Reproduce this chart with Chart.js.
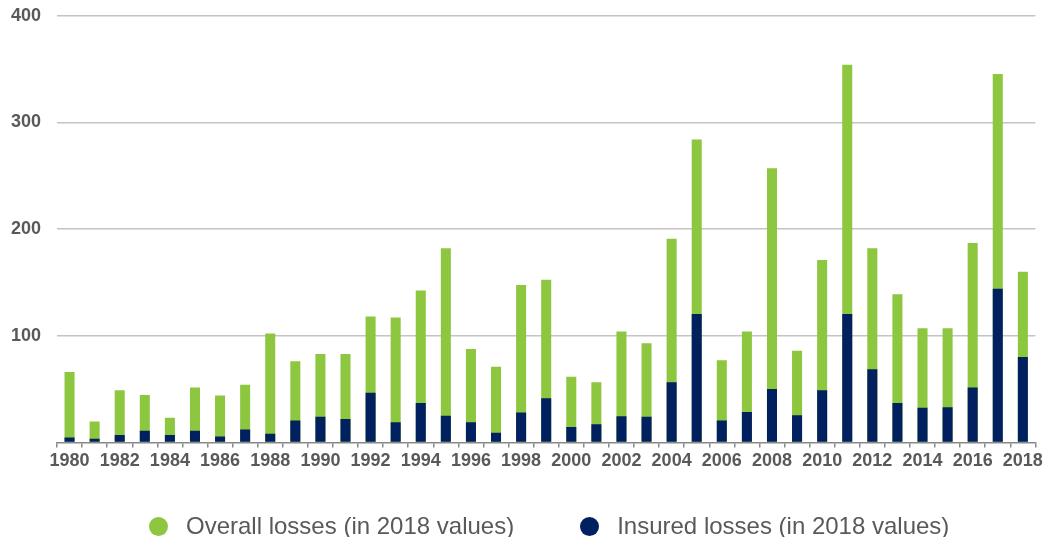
<!DOCTYPE html>
<html>
<head>
<meta charset="utf-8">
<script src="https://cdn.jsdelivr.net/npm/chart.js@4"></script>
<style>
  body { margin: 0; background: #fff; }
  #wrap { position: relative; width: 1046px; height: 537px; }
  #legend {
    position: absolute; left: 149px; top: 514px; height: 24px;
    display: flex; align-items: center;
    font-family: Arial, "Liberation Sans", sans-serif; font-size: 24px; color: #595959;
  }
  #legend .item { display: flex; align-items: center; margin-right: 66px; white-space: nowrap; }
  #legend .dot { width: 19px; height: 19px; border-radius: 50%; margin-right: 18px; }
</style>
</head>
<body>
<div id="wrap">
  <canvas id="myChart"></canvas>
  <div id="legend"></div>
</div>
<script>
const years = [1980, 1981, 1982, 1983, 1984, 1985, 1986, 1987, 1988, 1989,
  1990, 1991, 1992, 1993, 1994, 1995, 1996, 1997, 1998, 1999,
  2000, 2001, 2002, 2003, 2004, 2005, 2006, 2007, 2008, 2009,
  2010, 2011, 2012, 2013, 2014, 2015, 2016, 2017, 2018];

// overall losses, in 2018 values
const overallLosses = [66, 19.5, 49, 44.5, 23, 51.5, 44, 54, 102, 76,
  83, 83, 118, 117, 142.5, 182, 87.5, 71, 147.5, 152.5,
  61.5, 56.5, 104, 93, 191, 284, 77, 104, 257, 86,
  171, 354, 182, 139, 107, 107, 187, 345.5, 160];

// insured losses, in 2018 values
const insuredLosses = [4.5, 3.5, 7, 11, 7, 11, 5.5, 12, 8, 20.5,
  24, 22, 46.5, 19, 37, 25, 19, 9, 28, 41.5,
  14.5, 17, 24.5, 24, 56.5, 120.5, 20.5, 28.5, 50, 25.5,
  49, 120.5, 68.5, 37, 32.5, 33, 51.5, 144, 80];

const yTickValues = [0, 100, 200, 300, 400];

const font = 'Arial, "Liberation Sans", sans-serif';

const chart = new Chart(
  document.getElementById('myChart'),
  {
    type: 'bar',
    data: {
      labels: years,
      datasets: [
        {
          label: 'Insured losses (in 2018 values)',
          data: insuredLosses,
          backgroundColor: '#002060'
        },
        {
          label: 'Overall losses (in 2018 values)',
          data: overallLosses,
          backgroundColor: '#8dc63f'
        }
      ]
    },
    options: {
      responsive: true,
      maintainAspectRatio: false,
      animation: false,
      datasets: {
        bar: {
          grouped: false,
          barPercentage: 0.4,
          categoryPercentage: 1
        }
      },
      layout: {
        padding: { left: 0, right: 10, top: 7, bottom: 62 }
      },
      plugins: {
        legend: { display: false },
        tooltip: { enabled: false }
      },
      scales: {
        x: {
          grid: {
            offset: true,
            drawOnChartArea: false,
            drawTicks: true,
            tickLength: 5,
            color: '#888888',
            lineWidth: 1.5
          },
          border: { color: '#888888', width: 1.5 },
          ticks: {
            autoSkip: false,
            maxRotation: 0,
            padding: 3,
            color: '#595959',
            font: { family: font, size: 18, weight: 'bold' },
            callback: function(value, index) {
              return index % 2 === 0 ? this.getLabelForValue(value) : '';
            }
          }
        },
        y: {
          min: 0,
          max: 400,
          afterFit: function(scale) { scale.width = 57; },
          afterBuildTicks: function(scale) {
            scale.ticks = yTickValues.map(v => ({ value: v }));
          },
          border: { display: false },
          grid: {
            drawTicks: true,
            tickLength: 11,
            tickColor: 'rgba(0,0,0,0)',
            color: ctx => ctx.tick && ctx.tick.value === 0 ? 'rgba(0,0,0,0)' : '#c4c4c4',
            lineWidth: 1.5
          },
          ticks: {
            padding: 5,
            color: '#595959',
            font: { family: font, size: 18, weight: 'bold' },
            callback: function(value) {
              return value === 0 ? '' : value;
            }
          }
        }
      }
    }
  }
);

// html legend, overall first
const legendEl = document.getElementById('legend');
chart.data.datasets.slice().reverse().forEach(ds => {
  const item = document.createElement('div');
  item.className = 'item';
  const dot = document.createElement('span');
  dot.className = 'dot';
  dot.style.background = ds.backgroundColor;
  const text = document.createElement('span');
  text.textContent = ds.label;
  item.appendChild(dot);
  item.appendChild(text);
  legendEl.appendChild(item);
});
</script>
</body>
</html>
